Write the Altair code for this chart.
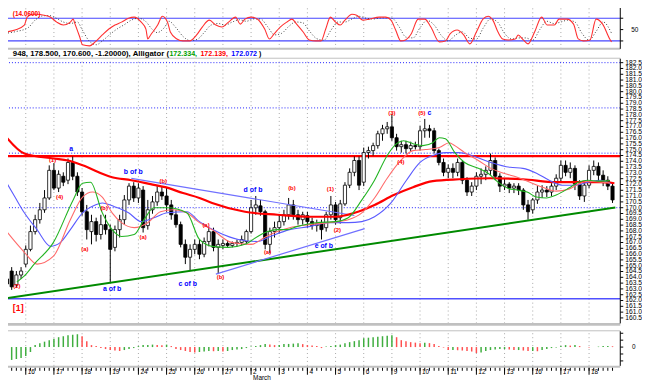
import altair as alt
import pandas as pd

# ---------------- price bars (4-hour candles) ----------------
bar_open = [163.86, 164.54, 163.35, 164.20, 165.14, 166.41, 167.94, 168.97, 169.82, 170.84,
            173.22, 171.69, 172.71, 172.37, 173.90, 172.71, 171.35, 169.65, 167.94, 168.80,
            167.69, 168.54, 168.11, 166.58, 168.11, 168.97, 170.67, 171.86, 170.84, 171.52,
            168.46, 169.82, 170.50, 171.35, 171.01, 170.24, 169.39, 168.54, 166.84, 165.73,
            166.41, 166.84, 165.99, 167.09, 167.94, 166.58, 166.75, 166.92, 166.75, 166.92,
            167.01, 167.09, 167.94, 169.99, 170.16, 169.65, 166.84, 167.94, 168.28, 168.80,
            169.39, 170.24, 169.39, 168.97, 169.31, 168.80, 168.46, 168.63, 168.28, 169.39,
            170.24, 169.14, 170.33, 171.94, 173.05, 174.07, 172.20, 174.75, 174.92, 175.35,
            176.37, 176.80, 176.97, 176.03, 175.26, 175.43, 175.09, 175.35, 175.26, 176.63,
            176.80, 176.63, 174.92, 173.90, 173.05, 173.39, 173.05, 173.90, 172.37, 171.35,
            171.86, 172.71, 172.88, 173.22, 174.07, 172.71, 171.86, 172.03, 171.69, 171.86,
            171.52, 170.24, 169.82, 170.67, 171.35, 171.52, 171.35, 171.86, 172.54, 173.65,
            173.05, 173.39, 172.03, 171.01, 171.94, 173.22, 173.56, 172.80, 172.37, 171.86]
bar_high = [164.28, 164.88, 164.54, 164.88, 166.75, 168.46, 169.39, 170.41, 171.52, 173.65,
            173.85, 173.22, 173.05, 174.24, 174.41, 173.05, 171.69, 170.24, 169.39, 169.14,
            169.39, 169.39, 168.54, 168.46, 169.39, 171.09, 172.11, 172.20, 172.11, 171.86,
            170.67, 171.01, 171.86, 171.86, 171.69, 170.67, 169.82, 168.80, 167.26, 166.84,
            167.26, 167.26, 167.43, 168.28, 168.28, 167.26, 167.26, 167.18, 167.09, 167.26,
            167.60, 168.11, 170.67, 171.01, 170.67, 169.82, 168.28, 168.80, 169.39, 169.82,
            170.84, 170.67, 169.82, 169.65, 169.65, 169.14, 168.97, 168.97, 169.65, 171.01,
            170.50, 170.67, 172.20, 173.39, 174.41, 174.41, 175.18, 175.26, 175.60, 176.63,
            177.14, 177.39, 178.07, 176.37, 175.77, 175.77, 175.69, 175.69, 177.05, 177.65,
            177.14, 176.88, 175.09, 174.24, 173.73, 173.82, 174.24, 174.07, 172.63, 172.20,
            173.05, 173.39, 173.56, 174.67, 174.33, 172.97, 172.54, 172.20, 172.11, 172.11,
            171.69, 170.67, 170.84, 171.86, 171.94, 171.86, 172.11, 172.88, 174.07, 174.07,
            173.90, 173.65, 172.37, 172.20, 173.65, 174.07, 173.90, 173.22, 172.71, 172.20]
bar_low = [163.01, 162.92, 163.09, 163.86, 164.88, 166.24, 167.69, 168.63, 169.56, 170.67,
           171.52, 171.35, 171.86, 172.03, 172.37, 171.01, 169.31, 167.26, 166.84, 167.09,
           167.26, 167.69, 163.60, 166.24, 167.43, 168.54, 170.24, 170.50, 170.41, 167.86,
           168.11, 169.48, 170.16, 170.67, 169.65, 168.97, 168.28, 166.58, 165.14, 164.54,
           165.99, 165.56, 165.73, 166.67, 166.24, 164.28, 166.41, 166.58, 166.58, 166.67,
           166.75, 166.84, 167.77, 169.39, 169.31, 166.41, 166.07, 167.43, 167.77, 168.46,
           168.97, 168.97, 168.54, 168.54, 168.28, 168.11, 167.94, 167.26, 167.94, 168.97,
           168.54, 168.63, 170.16, 171.69, 172.71, 171.52, 171.86, 174.24, 174.50, 175.09,
           175.77, 176.37, 175.77, 174.92, 174.75, 174.67, 174.84, 175.01, 174.92, 176.03,
           176.03, 174.67, 173.65, 172.71, 172.54, 172.54, 172.71, 172.03, 171.01, 171.01,
           171.52, 172.03, 172.37, 172.80, 172.37, 171.35, 171.52, 171.26, 171.26, 171.09,
           169.82, 168.97, 169.48, 170.33, 170.84, 170.92, 171.01, 171.52, 172.20, 172.71,
           172.54, 171.52, 170.67, 170.50, 171.69, 172.80, 172.20, 171.86, 171.52, 170.41]
bar_close = [163.43, 163.18, 164.20, 164.54, 166.41, 167.94, 168.97, 169.82, 170.84, 173.22,
             171.69, 172.88, 172.20, 173.90, 172.71, 171.35, 169.65, 168.11, 168.80, 167.69,
             168.54, 168.11, 166.41, 168.11, 168.97, 170.67, 171.86, 170.84, 171.69, 168.28,
             169.82, 170.50, 171.35, 171.01, 170.24, 169.39, 168.54, 166.84, 165.73, 166.41,
             166.84, 165.99, 167.09, 167.94, 166.58, 166.84, 166.92, 166.75, 166.92, 167.01,
             167.26, 167.94, 169.99, 170.24, 169.65, 166.84, 167.94, 168.28, 168.80, 169.39,
             170.24, 169.39, 168.97, 169.39, 168.80, 168.46, 168.63, 168.11, 169.39, 170.24,
             168.97, 170.33, 171.94, 173.05, 174.07, 171.94, 174.75, 174.92, 175.35, 176.37,
             176.80, 176.97, 176.03, 175.26, 175.43, 175.09, 175.35, 175.26, 176.63, 176.80,
             176.63, 174.92, 173.90, 173.05, 173.39, 173.05, 173.90, 172.37, 171.35, 171.86,
             172.71, 172.88, 173.22, 174.07, 172.71, 171.86, 172.03, 171.69, 171.86, 171.52,
             170.24, 169.65, 170.67, 171.35, 171.52, 171.35, 171.86, 172.54, 173.65, 173.05,
             173.39, 172.03, 171.01, 171.94, 173.22, 173.56, 172.80, 172.37, 171.86, 170.67]

# ---------------- day separators / date labels ----------------
day_bars = [4, 10, 16, 22, 28, 34, 40, 46, 52, 58, 64, 70, 76, 82, 88, 94, 100, 106, 112, 118, 124]
day_labels = ["16", "17", "18", "19", "24", "25", "26", "27", "2", "3", "4", "5", "6",
              "9", "10", "11", "12", "13", "16", "17", "18"]
month_bar = [52]
month_label = ["March"]

price_ticks = [160.5, 161.0, 161.5, 162.0, 162.5, 163.0, 163.5, 164.0, 164.5, 165.0, 165.5,
               166.0, 166.5, 167.0, 167.5, 168.0, 168.5, 169.0, 169.5, 170.0, 170.5, 171.0,
               171.5, 172.0, 172.5, 173.0, 173.5, 174.0, 174.5, 175.0, 175.5, 176.0, 176.5,
               177.0, 177.5, 178.0, 178.5, 179.0, 179.5, 180.0, 180.5, 181.0, 181.5, 182.0, 182.5]
stoch_ticks = [20, 50, 80]
stoch_tick_labels = ["", "50", ""]
ao_ticks = [1.4, 0.7, 0.0, -0.7, -1.4]
ao_tick_labels = ["", "", "0", "", ""]

# ---------------- moving averages / alligator ----------------
ma_bar = [-0.4, 3.7, 9.9, 13.0, 16.1, 22.4, 26.5, 30.6, 33.7, 37.5, 41.0, 43.7, 50.7, 57.6,
          64.4, 70.0, 74.1, 78.3, 82.4, 86.5, 90.7, 96.3, 103.1, 109.9, 117.0, 121.1, 126.5, 129.4]
ma_val = [176.20, 174.67, 174.24, 174.07, 173.65, 172.63, 172.37, 172.03, 171.77, 171.26,
          170.84, 170.41, 169.65, 169.39, 169.22, 169.22, 169.56, 170.24, 171.09, 171.77,
          172.29, 172.45, 172.54, 172.45, 172.20, 172.20, 172.20, 172.11]

lips_bar = [2.1, 3.7, 5.8, 9.9, 14.1, 16.1, 17.8, 20.3, 22.4, 24.4, 27.1, 29.2, 31.3, 34.2,
            38.3, 41.0, 43.7, 47.2, 50.7, 53.4, 55.5, 57.6, 59.6, 61.7, 65.8, 70.0, 72.7, 75.6,
            78.3, 81.0, 83.0, 84.5, 86.5, 88.6, 90.7, 92.1, 93.4, 95.4, 97.5, 100.4, 102.5,
            104.6, 106.6, 108.7, 110.8, 112.8, 114.9, 117.0, 119.7, 121.7, 123.8, 125.9, 128.4]
lips_val = [163.60, 164.12, 165.14, 167.01, 170.67, 172.11, 172.20, 169.56, 168.11, 167.52,
            167.69, 168.97, 169.99, 169.99, 169.56, 167.26, 166.67, 166.58, 166.84, 167.52,
            167.94, 168.11, 168.11, 168.37, 168.71, 168.80, 169.14, 170.67, 172.37, 174.50,
            175.52, 175.77, 175.52, 175.35, 175.60, 176.03, 175.94, 174.75, 173.90, 173.39,
            172.97, 172.20, 171.69, 171.52, 171.35, 170.92, 170.84, 171.09, 171.69, 172.20,
            172.37, 172.29, 172.33]

teeth_bar = [-0.4, 3.7, 6.4, 9.9, 13.5, 16.1, 18.2, 20.3, 22.4, 24.4, 27.1, 30.0, 32.7, 35.4,
             38.3, 41.0, 43.7, 47.8, 52.0, 54.9, 57.6, 60.2, 64.4, 68.5, 72.7, 75.6, 78.3, 81.0,
             83.9, 86.5, 89.2, 92.1, 94.2, 95.4, 97.5, 100.4, 103.1, 105.8, 108.7, 111.4, 114.1,
             117.0, 119.7, 121.7, 123.8, 126.5, 128.4]
teeth_val = [168.11, 166.16, 165.14, 165.82, 168.97, 170.92, 171.35, 170.92, 169.56, 168.71,
             168.28, 168.71, 169.65, 169.82, 169.56, 168.71, 168.11, 167.01, 166.84, 167.43,
             167.94, 168.28, 168.54, 168.71, 168.97, 169.56, 170.84, 172.54, 174.07, 174.92,
             175.01, 175.18, 175.60, 175.35, 174.75, 174.07, 173.39, 172.97, 172.63, 172.20,
             171.77, 171.43, 171.60, 172.03, 172.29, 172.20, 172.14]

jaw_bar = [-0.4, 1.7, 3.7, 6.4, 9.3, 11.4, 13.5, 16.1, 18.8, 20.3, 23.0, 25.9, 28.6, 31.3,
           34.2, 38.3, 41.0, 45.1, 49.3, 53.4, 56.1, 60.2, 64.4, 68.5, 72.7, 75.6, 78.3, 81.8,
           85.1, 88.0, 90.7, 93.4, 96.3, 99.0, 103.1, 107.2, 109.9, 112.8, 115.5, 118.2, 121.1,
           123.8, 126.5, 128.6]
jaw_val = [172.37, 170.92, 169.56, 168.11, 166.67, 167.01, 168.11, 169.56, 170.24, 170.41,
           170.07, 169.56, 168.80, 169.14, 169.56, 169.65, 168.80, 167.86, 167.26, 167.09,
           167.52, 168.11, 168.37, 168.71, 168.71, 168.80, 169.22, 170.41, 172.37, 173.90,
           174.50, 174.75, 174.75, 174.50, 173.90, 173.48, 173.39, 172.97, 172.37, 171.94,
           171.94, 172.20, 172.37, 172.07]

# ---------------- horizontal levels & trend lines ----------------
dotted_levels = [182.5, 178.6, 174.7, 170.0]
red_level = [174.45]
blue_level = [162.15]

green_tl_bar = [-0.41, 129.6]
green_tl_val = [162.17, 170.02]
blue_tl1_bar = [26.5, 74.0]
blue_tl1_val = [172.53, 169.33]
blue_tl2_bar = [44.5, 76.2]
blue_tl2_val = [164.28, 168.20]

# ---------------- wave labels ----------------
red_text = ["(2)", "(1)", "(4)", "(a)", "(b)", "(a)", "(b)", "(a)", "(b)", "(a)", "(b)",
            "(1)", "(2)", "(3)", "(4)", "(5)"]
red_bar = [2.1, 9.7, 11.2, 16.6, 20.7, 29.0, 33.3, 42.4, 45.5, 55.5, 60.7, 68.9, 70.4, 82.0, 83.9, 88.4]
red_val = [163.25, 174.10, 170.90, 166.40, 170.00, 167.50, 172.30, 168.50, 164.00, 166.20,
           171.70, 171.60, 168.10, 178.20, 173.90, 178.20]
blue_text = ["a", "b of b", "a of b", "c of b", "d of b", "e of b", "c"]
blue_bar = [13.7, 26.9, 22.4, 38.5, 52.4, 67.5, 90.0]
blue_val = [175.10, 173.10, 163.00, 163.40, 171.50, 166.70, 178.20]

# ---------------- stochastic ----------------
k_bar = [-0.4, 1.7, 3.7, 4.3, 5.4, 6.4, 7.9, 9.3, 10.6, 12.0, 13.5, 14.1, 14.5, 15.5, 16.1,
         17.6, 18.8, 20.3, 21.7, 23.0, 24.4, 25.9, 27.1, 28.6, 29.6, 30.0, 30.6, 32.1, 33.1,
         34.2, 34.8, 36.2, 37.5, 38.9, 40.4, 41.6, 43.1, 44.5, 45.8, 47.2, 48.7, 49.7, 50.7,
         52.0, 53.4, 54.9, 55.9, 56.9, 58.2, 59.6, 60.7, 61.7, 63.1, 64.4, 65.8, 66.9, 67.9,
         68.9, 70.0, 71.0, 72.0, 73.5, 74.5, 75.8, 77.2, 79.3, 80.7, 81.8, 82.8, 83.9, 84.9,
         86.1, 87.6, 89.0, 90.3, 92.1, 93.4, 94.4, 95.9, 97.3, 98.6, 100.0, 101.4, 102.5,
         103.5, 104.6, 105.6, 106.8, 108.3, 108.9, 110.0, 111.0, 112.4, 113.9, 115.1, 116.6,
         117.6, 119.3, 120.7, 121.7, 122.8, 124.2, 125.5, 126.9, 128.4, 128.8]
k_val = [43.6, 48.8, 61.9, 82.8, 90.6, 90.6, 88.0, 82.8, 69.7, 61.9, 69.7, 77.5, 64.5, 30.5,
         9.7, 7.0, 17.5, 35.8, 51.4, 61.9, 69.7, 80.2, 82.8, 69.7, 51.4, 25.3, 35.8, 61.9, 85.4,
         69.7, 43.6, 25.3, 20.1, 20.1, 35.8, 56.7, 74.9, 61.9, 56.7, 69.7, 82.8, 64.5, 77.5,
         82.8, 77.5, 51.4, 25.3, 38.4, 56.7, 69.7, 77.5, 64.5, 43.6, 22.7, 20.1, 20.1, 51.4,
         82.8, 69.7, 61.9, 74.9, 90.6, 88.0, 74.9, 77.5, 82.8, 82.8, 74.9, 48.8, 20.1, 22.7,
         38.4, 77.5, 77.5, 56.7, 17.5, 20.1, 38.4, 48.8, 35.8, 12.3, 43.6, 77.5, 85.4, 74.9,
         43.6, 25.3, 22.7, 25.3, 35.8, 22.7, 12.3, 43.6, 82.8, 61.9, 61.9, 77.5, 77.5, 64.5,
         25.3, 20.1, 22.7, 77.5, 64.5, 25.3, 17.5]
d_bar = [-0.4, 2.0, 4.5, 6.0, 7.5, 9.0, 10.5, 12.0, 13.5, 15.0, 16.0, 17.5, 19.0, 20.5, 22.0,
         23.5, 25.0, 26.5, 28.0, 29.5, 31.0, 32.0, 33.5, 34.5, 36.0, 37.5, 39.0, 40.5, 42.0,
         43.5, 45.0, 46.5, 48.0, 49.5, 51.0, 52.5, 54.0, 55.5, 57.0, 58.5, 60.0, 61.5, 63.0,
         64.5, 66.0, 67.5, 69.0, 70.5, 72.0, 73.5, 75.0, 76.5, 78.0, 80.0, 82.0, 83.5, 85.0,
         86.5, 88.0, 89.5, 91.0, 92.5, 94.0, 95.5, 97.0, 98.5, 100.0, 101.5, 103.0, 104.5,
         106.0, 107.5, 109.0, 110.5, 112.0, 113.5, 115.0, 116.5, 118.0, 119.5, 121.0, 122.5,
         124.0, 125.5, 127.0, 128.8]
d_val = [40, 45, 55, 75, 86, 87, 80, 70, 66, 70, 50, 20, 10, 22, 38, 52, 63, 75, 80, 72, 50,
         42, 55, 72, 55, 32, 21, 24, 42, 62, 66, 62, 70, 76, 72, 78, 78, 58, 36, 40, 58, 70, 68,
         45, 26, 22, 48, 70, 70, 78, 85, 80, 78, 81, 80, 58, 30, 28, 55, 74, 62, 35, 20, 35, 44,
         28, 25, 55, 78, 70, 40, 25, 28, 28, 22, 50, 72, 66, 70, 75, 70, 40, 22, 45, 70, 40]
stoch_levels = [20, 80]

# ---------------- awesome oscillator (one value per bar) ----------------
ao_val = [-1.4, -1.3, -1.2, -1.1, -0.9, -0.5, 0.2, 0.4, 0.55, 0.7,
          0.85, 1.0, 1.1, 1.2, 1.25, 1.3, 1.1, 0.6, 0.2, 0.1,
          -0.1, -0.2, -0.3, -0.35, -0.4, -0.3, -0.2, -0.1, 0.1, 0.2,
          0.22, 0.25, 0.2, 0.18, 0.25, 0.1, -0.2, -0.3, -0.4, -0.5,
          -0.55, -0.5, -0.45, -0.4, -0.42, -0.4, -0.45, -0.4, -0.3, -0.25,
          -0.2, -0.1, 0.05, 0.1, 0.2, 0.3, 0.25, 0.2, 0.22, 0.3,
          0.32, 0.35, 0.4, 0.3, 0.2, 0.15, 0.1, -0.1, 0.05, 0.1,
          0.2, 0.25, 0.4, 0.5, 0.6, 0.7, 0.9, 0.95, 1.0, 1.05,
          1.1, 1.15, 1.2, 1.0, 0.7, 0.6, 0.5, 0.45, 0.4, 0.45,
          0.4, 0.3, 0.1, -0.05, -0.3, -0.3, -0.32, -0.35, -0.4, -0.45,
          -0.6, -0.55, -0.4, -0.3, -0.25, -0.2, -0.2, -0.25, -0.3, -0.3,
          -0.35, -0.4, -0.4, -0.42, -0.3, -0.2, -0.1, -0.05, 0.1, 0.2,
          0.15, 0.2, 0.1, 0.0, -0.05, 0.02, 0.05, 0.1, 0.12, 0.08]

# ---------------- header texts ----------------
header_lead = ["948, 178.500, 170.600, -1.20000), Alligator ("]
header_lead_bar = [1.25]
header_parts = ["172.334,", "172.139,", "172.072", ")"]
header_bar = [34.6, 41.2, 47.8, 53.7]
header_colors = ["#00a000", "#ff0000", "#0000ff", "#000000"]
header_level = 183.26
stoch_title = ["(14.0600)"]

# =====================================================================
FONT = "Liberation Sans"
n = len(bar_open)
bars = list(range(n))
xs = alt.Scale(domain=[-0.414, 129.6], nice=False, zero=False)
ys_main = alt.Scale(domain=[160.03, 182.84], range=[325, 57], nice=False, zero=False)
ys_st = alt.Scale(domain=[-0.87, 121.7], range=[47, 0], nice=False, zero=False)
ys_ao = alt.Scale(domain=[-1.9, 1.6], range=[368, 333], nice=False, zero=False)


def X(field="bar"):
    return alt.X(f"{field}:Q", scale=xs, axis=None)


def Ym(field="v"):
    return alt.Y(f"{field}:Q", scale=ys_main, axis=None)


def Ys(field="v"):
    return alt.Y(f"{field}:Q", scale=ys_st, axis=None)


def Ya(field="v"):
    return alt.Y(f"{field}:Q", scale=ys_ao, axis=None)


candles = pd.DataFrame({"bar": bars, "open": bar_open, "high": bar_high,
                        "low": bar_low, "close": bar_close})
candles["dir"] = ["up" if c >= o else "down" for o, c in zip(bar_open, bar_close)]

days = pd.DataFrame({"bar": day_bars, "label": day_labels})
days["m_lo"], days["m_hi"] = 160.03, 182.84
days["s_lo"], days["s_hi"] = -0.87, 121.7
days["a_lo"], days["a_hi"] = -1.9, 1.6

GRID = dict(color="#a8a8a8", strokeDash=[1, 3], strokeWidth=1)

# ---------- stochastic panel ----------
st_grid = alt.Chart(days).mark_rule(**GRID).encode(x=X(), y=Ys("s_lo"), y2="s_hi:Q")
st_lv = alt.Chart(pd.DataFrame({"v": stoch_levels})).mark_rule(color="#4646ff", strokeWidth=1.2).encode(y=Ys())
st_d = alt.Chart(pd.DataFrame({"bar": d_bar, "v": d_val})).mark_line(
    color="#404040", strokeWidth=1, strokeDash=[1, 2], interpolate="monotone").encode(x=X(), y=Ys())
st_k = alt.Chart(pd.DataFrame({"bar": k_bar, "v": k_val})).mark_line(
    color="#ff3030", strokeWidth=1.1, interpolate="monotone").encode(x=X(), y=Ys())
st_t = alt.Chart(pd.DataFrame({"bar": [1.25], "v": [91.0], "t": stoch_title})).mark_text(
    color="#ff0000", fontSize=6.5, font=FONT, fontWeight="bold", align="left", baseline="middle").encode(
    x=X(), y=Ys(), text="t:N")
st_df = pd.DataFrame({"v": stoch_ticks, "t": stoch_tick_labels})
st_tick = alt.Chart(st_df).mark_rule(color="#000").encode(x=alt.value(628), x2=alt.value(631), y=Ys())
st_lab = alt.Chart(st_df).mark_text(fontSize=6.5, font=FONT, align="left", baseline="middle", color="#000").encode(
    x=alt.value(639), y=Ys(), text="t:N")
stoch = alt.layer(st_grid, st_lv, st_d, st_k, st_t, st_tick, st_lab)

# ---------- main price panel ----------
m_grid = alt.Chart(days).mark_rule(**GRID).encode(x=X(), y=Ym("m_lo"), y2="m_hi:Q")
m_dot = alt.Chart(pd.DataFrame({"v": dotted_levels})).mark_rule(
    color="#2020ff", strokeDash=[1, 2], strokeWidth=1).encode(y=Ym())
m_red = alt.Chart(pd.DataFrame({"v": red_level})).mark_rule(color="#ff0000", strokeWidth=2.2).encode(y=Ym())
m_blue = alt.Chart(pd.DataFrame({"v": blue_level})).mark_rule(color="#5050ff", strokeWidth=1.5).encode(y=Ym())

wick = alt.Chart(candles).mark_rule(color="#000000", strokeWidth=1).encode(x=X(), y=Ym("low"), y2="high:Q")
body = alt.Chart(candles).mark_bar(size=3.2, stroke="#000000", strokeWidth=0.8).encode(
    x=X(), y=Ym("open"), y2="close:Q",
    fill=alt.Fill("dir:N", scale=alt.Scale(domain=["up", "down"], range=["#ffffff", "#000000"]), legend=None))


def line(bx, vals, color, width, interp="monotone"):
    return alt.Chart(pd.DataFrame({"bar": bx, "v": vals})).mark_line(
        color=color, strokeWidth=width, interpolate=interp).encode(x=X(), y=Ym())


m_gtl = line(green_tl_bar, green_tl_val, "#008a00", 2.0, "linear")
m_btl1 = line(blue_tl1_bar, blue_tl1_val, "#7070ff", 1.2, "linear")
m_btl2 = line(blue_tl2_bar, blue_tl2_val, "#7070ff", 1.2, "linear")
m_ma = line(ma_bar, ma_val, "#ff0000", 2.2)
m_jaw = line(jaw_bar, jaw_val, "#5a5aff", 1.1)
m_teeth = line(teeth_bar, teeth_val, "#ff6a6a", 1.1)
m_lips = line(lips_bar, lips_val, "#22b422", 1.1)

m_rlab = alt.Chart(pd.DataFrame({"bar": red_bar, "v": red_val, "t": red_text})).mark_text(
    color="#ff0000", fontSize=6, font=FONT, fontWeight="bold", baseline="middle").encode(
    x=X(), y=Ym(), text="t:N")
m_blab = alt.Chart(pd.DataFrame({"bar": blue_bar, "v": blue_val, "t": blue_text})).mark_text(
    color="#0000ff", fontSize=7, font=FONT, fontWeight="bold", baseline="middle").encode(
    x=X(), y=Ym(), text="t:N")
m_one = alt.Chart(pd.DataFrame({"bar": [1.25], "v": [161.35], "t": ["[1]"]})).mark_text(
    color="#ff0000", fontSize=9, font=FONT, fontWeight="bold", align="left", baseline="middle").encode(
    x=X(), y=Ym(), text="t:N")
m_hdr0 = alt.Chart(pd.DataFrame({"bar": header_lead_bar, "v": [header_level], "t": header_lead})).mark_text(
    fontSize=7.9, font=FONT, fontWeight="bold", align="left", baseline="middle", color="#000").encode(
    x=X(), y=Ym(), text="t:N")
hdr = pd.DataFrame({"bar": header_bar, "v": [header_level] * len(header_bar),
                    "t": header_parts, "c": header_colors})
m_hdr = alt.Chart(hdr).mark_text(fontSize=7.2, font=FONT, fontWeight="bold", align="left",
                                 baseline="middle").encode(
    x=X(), y=Ym(), text="t:N", color=alt.Color("c:N", scale=None))
pt = pd.DataFrame({"v": price_ticks})
m_tick = alt.Chart(pt).mark_rule(color="#000").encode(x=alt.value(628), x2=alt.value(631), y=Ym())
m_lab = alt.Chart(pt).mark_text(fontSize=6.8, font=FONT, align="left", baseline="middle", color="#000").encode(
    x=alt.value(633), y=Ym(), text=alt.Text("v:Q", format=".1f"))

main = alt.layer(m_grid, m_dot, m_red, m_blue, wick, body, m_gtl, m_btl1, m_btl2,
                 m_ma, m_jaw, m_teeth, m_lips, m_rlab, m_blab, m_one, m_hdr0, m_hdr, m_tick, m_lab)

# ---------- AO panel ----------
ao = pd.DataFrame({"bar": bars, "v": ao_val})
ao["zero"] = 0.0
ao["dir"] = ["up" if (i == 0 or v >= ao_val[i - 1]) else "down" for i, v in enumerate(ao_val)]

a_grid = alt.Chart(days).mark_rule(**GRID).encode(x=X(), y=Ya("a_lo"), y2="a_hi:Q")
a_bars = alt.Chart(ao).mark_bar(size=1.5).encode(
    x=X(), y=Ya(), y2="zero:Q",
    color=alt.Color("dir:N", scale=alt.Scale(domain=["up", "down"], range=["#3fae3f", "#ff5050"]),
                    legend=None))
ao_df = pd.DataFrame({"v": ao_ticks, "t": ao_tick_labels})
a_tick = alt.Chart(ao_df).mark_rule(color="#000").encode(x=alt.value(628), x2=alt.value(631), y=Ya())
a_lab = alt.Chart(ao_df).mark_text(fontSize=6.5, font=FONT, align="left", baseline="middle", color="#000").encode(
    x=alt.value(640), y=Ya(), text="t:N")
aopanel = alt.layer(a_grid, a_bars, a_tick, a_lab)

# ---------- frame, separators and date ruler ----------
frame = []
for y0, w, c in [(47, 2, "#c0c0c0"), (56.5, 1, "#c0c0c0"), (326, 3, "#c0c0c0"),
                 (332.5, 1, "#c0c0c0"), (369, 2, "#c0c0c0")]:
    frame.append(alt.Chart(pd.DataFrame({"k": [0]})).mark_rule(color=c, strokeWidth=w).encode(
        y=alt.value(y0)))
for y0, y1 in [(0, 47), (57, 325), (333, 368)]:
    frame.append(alt.Chart(pd.DataFrame({"k": [0]})).mark_rule(color="#000", strokeWidth=1).encode(
        x=alt.value(628), y=alt.value(y0), y2=alt.value(y1)))
ticks_small = alt.Chart(pd.DataFrame({"bar": bars})).mark_rule(color="#000", strokeWidth=1).encode(
    x=X(), y=alt.value(370), y2=alt.value(373))
ticks_major = alt.Chart(days).mark_rule(color="#000", strokeWidth=1).encode(
    x=X(), y=alt.value(370), y2=alt.value(377))
day_text = alt.Chart(days).mark_text(fontSize=6.5, font=FONT, align="left", baseline="middle",
                                     dx=2, color="#000").encode(x=X(), y=alt.value(374.5), text="label:N")
month_text = alt.Chart(pd.DataFrame({"bar": month_bar, "t": month_label})).mark_text(
    fontSize=6.5, font=FONT, align="left", baseline="middle", dx=2, color="#000").encode(
    x=X(), y=alt.value(380.5), text="t:N")
ruler = alt.layer(*frame, ticks_small, ticks_major, day_text, month_text)

chart = alt.layer(stoch, main, aopanel, ruler).resolve_scale(y="independent").properties(
    width=628, height=368, background="#ffffff",
    padding={"left": -8, "top": -8, "right": 22, "bottom": 14},
    autosize=alt.AutoSizeParams(type="none"),
).configure_view(strokeWidth=0)

chart.save("out.html", embed_options={"renderer": "svg", "actions": False})
